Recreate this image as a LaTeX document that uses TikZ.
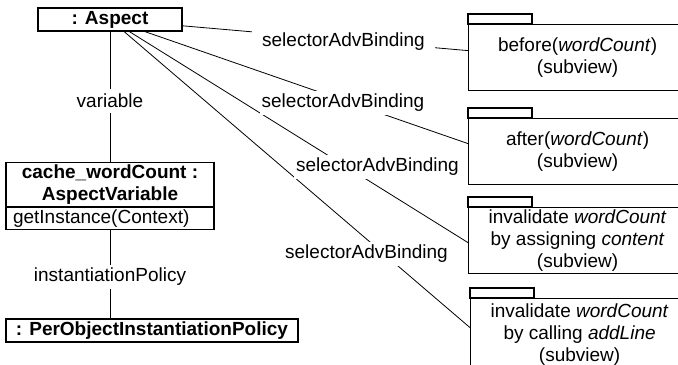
\documentclass[tikz,border=0pt]{standalone}
\usepackage{fontspec}
\setmainfont{Liberation Sans}
\usetikzlibrary{calc,backgrounds}

\begin{document}
\begin{tikzpicture}[x=0.5pt,y=-0.5pt,line width=0.6pt,
  font=\fontsize{9.5}{11}\selectfont,
  obj/.style={draw,font=\fontsize{9.5}{11}\selectfont\bfseries,inner sep=0pt,minimum height=11.5pt},
  lbl/.style={fill=white,inner xsep=5pt,inner ysep=0pt,minimum height=12pt},
  pkg/.style={draw,anchor=north west,align=center,inner sep=0pt,minimum width=109pt,minimum height=33pt}]
  \useasboundingbox (0,0) rectangle (678,364);
  \clip (0,0) rectangle (678,364);

  % left: objects
  \node[obj,minimum width=72pt] (aspect) at (110,19.5) {: Aspect};
  \node[lbl] (varlbl) at (110,100.5) {variable};
  \node[obj,anchor=north,minimum width=104pt,minimum height=22pt,align=center] (cachevar) at (110,162) {cache\_wordCount :\\AspectVariable};
  \node[draw,anchor=north,minimum height=11pt,inner ysep=0pt,inner xsep=3.5pt,text width=97pt,align=left] (cacheop) at (cachevar.south) {getInstance(Context)};
  \node[lbl] (pollbl) at (110,277) {instantiationPolicy};
  \node[obj,minimum width=146pt] (perobj) at (152,330.5) {: PerObjectInstantiationPolicy};

  % right: subviews
  \node[pkg] (pkg1) at (468,24) {before(\textit{wordCount})\\(subview)};
  \node[pkg] (pkg2) at (468,118) {after(\textit{wordCount})\\(subview)};
  \node[pkg] (pkg3) at (468,207) {invalidate \textit{wordCount}\\by assigning \textit{content}\\(subview)};
  \node[pkg,minimum height=36pt] (pkg4) at (470,298) {invalidate \textit{wordCount}\\by calling \textit{addLine}\\(subview)};
  \foreach \p in {pkg1,pkg2,pkg3,pkg4}
    \draw (\p.north west) rectangle ++(64,-10);

  % bindings
  \node[lbl] (sel1) at (343.5,41.5) {selectorAdvBinding};
  \node[lbl,inner xsep=1pt] (sel2) at (343,103) {selectorAdvBinding};
  \node[lbl,inner xsep=1pt] (sel3) at (377.5,167) {selectorAdvBinding};
  \node[lbl] (sel4) at (366.5,254) {selectorAdvBinding};

  \begin{scope}[on background layer]
    \draw (aspect) -- (cachevar);
    \draw (cacheop) -- (cacheop |- perobj.north);
    \draw (aspect) -- ($(pkg1.west)+(0,-7)$);
    \draw (aspect) -- ($(pkg2.west)+(0,-8)$);
    \draw (aspect) -- ($(pkg3.west)+(0,2)$);
    \draw (aspect) -- ($(pkg4.west)+(0,-7)$);
  \end{scope}
\end{tikzpicture}
\end{document}
